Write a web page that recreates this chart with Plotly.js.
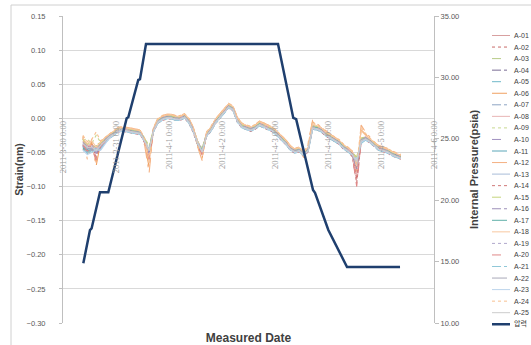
<!DOCTYPE html>
<html><head><meta charset="utf-8">
<script src="https://cdn.plot.ly/plotly-3.0.1.min.js"></script>
<style>html,body{margin:0;padding:0;background:#fff}#chart{width:531px;height:345px}</style>
</head><body><div id="chart"></div>
<script>
// ---------- DATA ----------
const times = [
'2011-03-30 09:00','2011-03-30 11:00','2011-03-30 13:00','2011-03-30 15:00','2011-03-30 17:00','2011-03-30 19:00','2011-03-30 21:00','2011-03-30 23:00',
'2011-03-31 01:00','2011-03-31 03:00','2011-03-31 05:00','2011-03-31 07:00','2011-03-31 09:00','2011-03-31 11:00','2011-03-31 13:00','2011-03-31 15:00','2011-03-31 17:00','2011-03-31 19:00','2011-03-31 21:00','2011-03-31 23:00',
'2011-04-01 01:00','2011-04-01 03:00','2011-04-01 05:00','2011-04-01 07:00','2011-04-01 09:00','2011-04-01 11:00','2011-04-01 13:00','2011-04-01 15:00','2011-04-01 17:00','2011-04-01 19:00','2011-04-01 21:00','2011-04-01 23:00',
'2011-04-02 01:00','2011-04-02 03:00','2011-04-02 05:00','2011-04-02 07:00','2011-04-02 09:00','2011-04-02 11:00','2011-04-02 13:00','2011-04-02 15:00','2011-04-02 17:00','2011-04-02 19:00','2011-04-02 21:00','2011-04-02 23:00',
'2011-04-03 01:00','2011-04-03 03:00','2011-04-03 05:00','2011-04-03 07:00','2011-04-03 09:00','2011-04-03 11:00','2011-04-03 13:00','2011-04-03 15:00','2011-04-03 17:00','2011-04-03 19:00','2011-04-03 21:00','2011-04-03 23:00',
'2011-04-04 01:00','2011-04-04 03:00','2011-04-04 05:00','2011-04-04 07:00','2011-04-04 09:00','2011-04-04 11:00','2011-04-04 13:00','2011-04-04 15:00','2011-04-04 17:00','2011-04-04 19:00','2011-04-04 21:00','2011-04-04 23:00',
'2011-04-05 01:00','2011-04-05 03:00','2011-04-05 05:00','2011-04-05 07:00','2011-04-05 09:00'];

const A01 = [-0.033,-0.040,-0.038,-0.044,-0.037,-0.030,-0.024,-0.020,-0.015,-0.014,-0.015,-0.017,-0.018,-0.019,-0.030,-0.050,-0.015,-0.002,0.002,0.004,0.004,0.002,0.002,0.005,-0.002,-0.015,-0.034,-0.046,-0.022,-0.014,-0.003,0.005,0.013,0.020,0.016,-0.001,-0.009,-0.012,-0.014,-0.011,-0.006,-0.009,-0.012,-0.015,-0.021,-0.027,-0.034,-0.042,-0.046,-0.044,-0.050,-0.044,-0.011,-0.012,-0.015,-0.021,-0.025,-0.030,-0.033,-0.040,-0.044,-0.050,-0.080,-0.030,-0.027,-0.031,-0.037,-0.042,-0.044,-0.046,-0.050,-0.053,-0.055];
const A02 = [-0.045,-0.050,-0.036,-0.058,-0.042,-0.035,-0.029,-0.025,-0.020,-0.019,-0.020,-0.022,-0.023,-0.024,-0.036,-0.058,-0.020,-0.007,-0.003,-0.001,-0.001,-0.003,-0.003,0.000,-0.007,-0.021,-0.040,-0.052,-0.027,-0.019,-0.008,0.000,0.008,0.016,0.011,-0.006,-0.014,-0.017,-0.019,-0.016,-0.011,-0.014,-0.017,-0.020,-0.026,-0.032,-0.039,-0.047,-0.051,-0.049,-0.056,-0.049,-0.016,-0.017,-0.020,-0.026,-0.030,-0.035,-0.038,-0.045,-0.049,-0.056,-0.095,-0.035,-0.032,-0.036,-0.042,-0.047,-0.049,-0.051,-0.055,-0.058,-0.060];
const A03 = [-0.030,-0.047,-0.043,-0.040,-0.041,-0.033,-0.027,-0.021,-0.018,-0.017,-0.016,-0.020,-0.019,-0.022,-0.031,-0.044,-0.018,-0.005,0.001,0.001,0.003,-0.001,0.001,0.002,-0.005,-0.016,-0.037,-0.047,-0.025,-0.015,-0.006,0.004,0.010,0.019,0.013,-0.004,-0.010,-0.015,-0.015,-0.014,-0.007,-0.012,-0.013,-0.018,-0.022,-0.030,-0.035,-0.045,-0.047,-0.047,-0.051,-0.047,-0.014,-0.013,-0.018,-0.022,-0.028,-0.031,-0.036,-0.041,-0.047,-0.051,-0.066,-0.033,-0.028,-0.034,-0.038,-0.045,-0.045,-0.049,-0.051,-0.056,-0.056];
const A04 = [-0.040,-0.044,-0.046,-0.050,-0.041,-0.034,-0.028,-0.024,-0.019,-0.018,-0.019,-0.021,-0.022,-0.023,-0.034,-0.052,-0.019,-0.006,-0.002,0.000,0.000,-0.002,-0.002,0.001,-0.006,-0.019,-0.038,-0.050,-0.026,-0.018,-0.007,0.001,0.009,0.016,0.012,-0.005,-0.013,-0.016,-0.018,-0.015,-0.010,-0.013,-0.016,-0.019,-0.025,-0.031,-0.038,-0.046,-0.050,-0.048,-0.054,-0.048,-0.015,-0.016,-0.019,-0.025,-0.029,-0.034,-0.037,-0.044,-0.048,-0.054,-0.072,-0.034,-0.031,-0.035,-0.041,-0.046,-0.048,-0.050,-0.054,-0.057,-0.059];
const A05 = [-0.042,-0.048,-0.052,-0.049,-0.044,-0.036,-0.027,-0.023,-0.018,-0.015,-0.018,-0.018,-0.021,-0.020,-0.033,-0.047,-0.016,-0.003,0.001,0.003,0.001,0.001,-0.001,0.004,-0.003,-0.018,-0.035,-0.049,-0.023,-0.017,-0.004,0.002,0.012,0.017,0.015,-0.002,-0.012,-0.013,-0.017,-0.012,-0.009,-0.010,-0.015,-0.016,-0.024,-0.028,-0.037,-0.043,-0.049,-0.045,-0.053,-0.045,-0.012,-0.015,-0.016,-0.024,-0.026,-0.033,-0.034,-0.043,-0.045,-0.053,-0.068,-0.031,-0.030,-0.032,-0.040,-0.043,-0.047,-0.047,-0.053,-0.054,-0.058];
const A06 = [-0.028,-0.055,-0.034,-0.070,-0.036,-0.030,-0.024,-0.019,-0.014,-0.013,-0.014,-0.016,-0.017,-0.018,-0.036,-0.072,-0.014,-0.001,0.003,0.005,0.005,0.003,0.003,0.006,-0.001,-0.014,-0.040,-0.058,-0.021,-0.013,-0.002,0.006,0.014,0.021,0.017,0.000,-0.008,-0.011,-0.013,-0.010,-0.005,-0.008,-0.011,-0.014,-0.020,-0.026,-0.033,-0.041,-0.045,-0.043,-0.055,-0.040,-0.005,-0.010,-0.014,-0.020,-0.024,-0.029,-0.032,-0.039,-0.043,-0.049,-0.078,-0.017,-0.024,-0.030,-0.036,-0.041,-0.043,-0.045,-0.049,-0.052,-0.054];
const A07 = [-0.038,-0.043,-0.044,-0.047,-0.040,-0.031,-0.025,-0.023,-0.016,-0.017,-0.016,-0.019,-0.021,-0.020,-0.033,-0.049,-0.017,-0.004,-0.001,0.002,0.001,0.000,-0.001,0.003,-0.004,-0.018,-0.037,-0.049,-0.024,-0.017,-0.005,0.002,0.010,0.017,0.014,-0.003,-0.011,-0.015,-0.016,-0.014,-0.008,-0.011,-0.015,-0.017,-0.024,-0.029,-0.037,-0.044,-0.049,-0.046,-0.052,-0.047,-0.014,-0.014,-0.018,-0.023,-0.028,-0.032,-0.036,-0.042,-0.046,-0.052,-0.064,-0.033,-0.029,-0.033,-0.040,-0.044,-0.047,-0.048,-0.052,-0.055,-0.058];
const A08 = [-0.034,-0.039,-0.040,-0.052,-0.038,-0.031,-0.025,-0.021,-0.016,-0.015,-0.016,-0.018,-0.019,-0.020,-0.031,-0.054,-0.016,-0.003,0.001,0.003,0.003,0.001,0.001,0.004,-0.003,-0.016,-0.035,-0.047,-0.023,-0.015,-0.004,0.004,0.012,0.019,0.015,-0.002,-0.010,-0.013,-0.015,-0.012,-0.007,-0.010,-0.013,-0.016,-0.022,-0.028,-0.035,-0.043,-0.047,-0.045,-0.051,-0.045,-0.010,-0.013,-0.016,-0.022,-0.026,-0.031,-0.034,-0.041,-0.045,-0.051,-0.085,-0.029,-0.028,-0.032,-0.038,-0.043,-0.045,-0.047,-0.051,-0.054,-0.056];
const A09 = [-0.032,-0.030,-0.037,-0.025,-0.035,-0.029,-0.023,-0.020,-0.015,-0.015,-0.015,-0.018,-0.018,-0.020,-0.029,-0.040,-0.016,-0.003,0.001,0.003,0.003,0.001,0.001,0.004,-0.003,-0.016,-0.034,-0.044,-0.022,-0.015,-0.004,0.004,0.012,0.019,0.015,-0.002,-0.010,-0.013,-0.015,-0.012,-0.007,-0.010,-0.013,-0.016,-0.022,-0.028,-0.035,-0.043,-0.047,-0.045,-0.050,-0.044,-0.012,-0.013,-0.016,-0.022,-0.026,-0.031,-0.034,-0.041,-0.045,-0.050,-0.058,-0.030,-0.028,-0.032,-0.038,-0.043,-0.045,-0.047,-0.051,-0.054,-0.056];
const A10 = [-0.039,-0.046,-0.049,-0.053,-0.043,-0.034,-0.028,-0.023,-0.019,-0.017,-0.018,-0.020,-0.021,-0.023,-0.033,-0.050,-0.019,-0.005,-0.001,0.001,0.001,-0.001,-0.001,0.002,-0.005,-0.018,-0.037,-0.050,-0.025,-0.017,-0.006,0.002,0.010,0.017,0.013,-0.004,-0.012,-0.015,-0.017,-0.014,-0.009,-0.012,-0.015,-0.018,-0.024,-0.030,-0.037,-0.045,-0.049,-0.047,-0.053,-0.047,-0.014,-0.015,-0.018,-0.024,-0.028,-0.033,-0.036,-0.043,-0.047,-0.053,-0.070,-0.033,-0.030,-0.034,-0.040,-0.045,-0.047,-0.049,-0.053,-0.056,-0.058];
const A11 = [-0.041,-0.051,-0.045,-0.048,-0.042,-0.033,-0.027,-0.022,-0.018,-0.016,-0.017,-0.019,-0.020,-0.021,-0.032,-0.048,-0.017,-0.004,0.000,0.002,0.002,0.000,0.000,0.003,-0.004,-0.017,-0.036,-0.048,-0.024,-0.016,-0.005,0.003,0.011,0.018,0.014,-0.003,-0.011,-0.014,-0.016,-0.013,-0.008,-0.011,-0.014,-0.017,-0.023,-0.029,-0.036,-0.044,-0.048,-0.046,-0.052,-0.046,-0.013,-0.014,-0.017,-0.023,-0.027,-0.032,-0.035,-0.042,-0.046,-0.052,-0.062,-0.032,-0.029,-0.033,-0.039,-0.044,-0.046,-0.048,-0.052,-0.055,-0.057];
const A12 = [-0.026,-0.060,-0.030,-0.065,-0.034,-0.029,-0.023,-0.018,-0.013,-0.012,-0.013,-0.015,-0.016,-0.017,-0.040,-0.080,-0.013,0.000,0.004,0.006,0.006,0.004,0.004,0.007,0.000,-0.013,-0.042,-0.062,-0.020,-0.012,-0.001,0.007,0.015,0.022,0.018,0.001,-0.007,-0.010,-0.012,-0.009,-0.004,-0.007,-0.010,-0.013,-0.019,-0.025,-0.032,-0.040,-0.044,-0.042,-0.058,-0.036,-0.003,-0.008,-0.013,-0.019,-0.023,-0.028,-0.031,-0.038,-0.042,-0.048,-0.075,-0.010,-0.020,-0.028,-0.035,-0.040,-0.042,-0.044,-0.048,-0.051,-0.053];
const A13 = [-0.043,-0.045,-0.047,-0.044,-0.045,-0.035,-0.029,-0.024,-0.019,-0.018,-0.019,-0.021,-0.022,-0.023,-0.033,-0.046,-0.019,-0.006,-0.002,0.000,0.000,-0.002,-0.002,0.001,-0.006,-0.019,-0.038,-0.050,-0.026,-0.018,-0.007,0.001,0.009,0.016,0.012,-0.005,-0.013,-0.016,-0.018,-0.015,-0.010,-0.013,-0.016,-0.019,-0.025,-0.031,-0.038,-0.046,-0.050,-0.048,-0.054,-0.048,-0.016,-0.016,-0.019,-0.025,-0.029,-0.034,-0.037,-0.044,-0.048,-0.054,-0.060,-0.036,-0.031,-0.035,-0.041,-0.046,-0.048,-0.050,-0.054,-0.057,-0.059];
const A14 = [-0.037,-0.041,-0.042,-0.056,-0.040,-0.033,-0.026,-0.022,-0.017,-0.017,-0.017,-0.019,-0.021,-0.021,-0.034,-0.056,-0.018,-0.004,0.000,0.002,0.002,0.000,0.000,0.003,-0.004,-0.017,-0.037,-0.052,-0.024,-0.016,-0.005,0.003,0.011,0.018,0.014,-0.003,-0.011,-0.014,-0.016,-0.013,-0.008,-0.011,-0.014,-0.017,-0.023,-0.029,-0.036,-0.044,-0.048,-0.046,-0.053,-0.047,-0.012,-0.014,-0.017,-0.023,-0.027,-0.032,-0.035,-0.042,-0.046,-0.052,-0.090,-0.031,-0.029,-0.033,-0.039,-0.044,-0.046,-0.048,-0.052,-0.055,-0.057];
const A15 = [-0.031,-0.038,-0.035,-0.038,-0.036,-0.030,-0.024,-0.020,-0.015,-0.014,-0.015,-0.017,-0.018,-0.019,-0.030,-0.043,-0.015,-0.002,0.002,0.004,0.004,0.002,0.002,0.005,-0.002,-0.015,-0.034,-0.045,-0.022,-0.014,-0.003,0.005,0.013,0.020,0.016,-0.001,-0.009,-0.012,-0.014,-0.011,-0.006,-0.009,-0.012,-0.015,-0.021,-0.027,-0.034,-0.042,-0.046,-0.044,-0.050,-0.044,-0.011,-0.012,-0.015,-0.021,-0.025,-0.030,-0.033,-0.040,-0.044,-0.050,-0.057,-0.029,-0.027,-0.031,-0.037,-0.042,-0.044,-0.046,-0.050,-0.053,-0.055];
const A16 = [-0.040,-0.049,-0.043,-0.051,-0.043,-0.034,-0.027,-0.024,-0.018,-0.018,-0.018,-0.020,-0.022,-0.022,-0.033,-0.051,-0.018,-0.005,-0.001,0.001,0.001,-0.001,-0.001,0.002,-0.005,-0.018,-0.038,-0.051,-0.025,-0.017,-0.006,0.002,0.010,0.017,0.013,-0.004,-0.012,-0.015,-0.017,-0.014,-0.009,-0.012,-0.015,-0.018,-0.024,-0.030,-0.037,-0.045,-0.049,-0.047,-0.053,-0.047,-0.014,-0.015,-0.018,-0.024,-0.028,-0.033,-0.036,-0.043,-0.047,-0.053,-0.074,-0.033,-0.030,-0.034,-0.040,-0.045,-0.047,-0.049,-0.053,-0.056,-0.058];
const A17 = [-0.044,-0.046,-0.050,-0.045,-0.041,-0.032,-0.026,-0.022,-0.017,-0.016,-0.017,-0.019,-0.020,-0.021,-0.032,-0.047,-0.017,-0.004,0.000,0.002,0.002,0.000,0.000,0.003,-0.004,-0.017,-0.036,-0.047,-0.024,-0.016,-0.005,0.003,0.011,0.018,0.014,-0.003,-0.011,-0.014,-0.016,-0.013,-0.008,-0.011,-0.014,-0.017,-0.023,-0.029,-0.036,-0.044,-0.048,-0.046,-0.052,-0.046,-0.013,-0.014,-0.017,-0.023,-0.027,-0.032,-0.035,-0.042,-0.046,-0.052,-0.066,-0.032,-0.029,-0.033,-0.039,-0.044,-0.046,-0.048,-0.052,-0.055,-0.057];
const A18 = [-0.029,-0.037,-0.033,-0.042,-0.035,-0.029,-0.023,-0.019,-0.014,-0.013,-0.014,-0.016,-0.017,-0.018,-0.033,-0.065,-0.014,-0.001,0.003,0.005,0.005,0.003,0.003,0.006,-0.001,-0.014,-0.034,-0.050,-0.021,-0.013,-0.002,0.006,0.014,0.021,0.017,0.000,-0.008,-0.011,-0.013,-0.010,-0.005,-0.008,-0.011,-0.014,-0.020,-0.026,-0.033,-0.041,-0.045,-0.043,-0.050,-0.042,-0.008,-0.011,-0.014,-0.020,-0.024,-0.029,-0.032,-0.039,-0.043,-0.049,-0.070,-0.018,-0.025,-0.030,-0.036,-0.041,-0.043,-0.045,-0.049,-0.052,-0.054];
const A19 = [-0.038,-0.044,-0.039,-0.049,-0.039,-0.032,-0.026,-0.022,-0.017,-0.016,-0.017,-0.019,-0.020,-0.021,-0.032,-0.049,-0.017,-0.004,0.000,0.002,0.002,0.000,0.000,0.003,-0.004,-0.017,-0.036,-0.049,-0.024,-0.016,-0.005,0.003,0.011,0.018,0.014,-0.003,-0.011,-0.014,-0.016,-0.013,-0.008,-0.011,-0.014,-0.017,-0.023,-0.029,-0.036,-0.044,-0.048,-0.046,-0.052,-0.046,-0.013,-0.014,-0.017,-0.023,-0.027,-0.032,-0.035,-0.042,-0.046,-0.052,-0.067,-0.032,-0.029,-0.033,-0.039,-0.044,-0.046,-0.048,-0.052,-0.055,-0.057];
const A20 = [-0.039,-0.048,-0.044,-0.061,-0.041,-0.034,-0.028,-0.023,-0.018,-0.017,-0.018,-0.020,-0.021,-0.022,-0.035,-0.060,-0.019,-0.005,-0.001,0.001,0.001,-0.001,-0.001,0.002,-0.005,-0.018,-0.039,-0.054,-0.025,-0.017,-0.006,0.002,0.010,0.017,0.013,-0.004,-0.012,-0.015,-0.017,-0.014,-0.009,-0.012,-0.015,-0.018,-0.024,-0.030,-0.037,-0.045,-0.049,-0.047,-0.054,-0.048,-0.014,-0.015,-0.018,-0.024,-0.028,-0.033,-0.036,-0.043,-0.047,-0.054,-0.100,-0.034,-0.030,-0.034,-0.040,-0.045,-0.047,-0.049,-0.053,-0.056,-0.058];
const A21 = [-0.046,-0.050,-0.048,-0.043,-0.046,-0.036,-0.030,-0.025,-0.020,-0.019,-0.020,-0.022,-0.023,-0.024,-0.034,-0.045,-0.020,-0.007,-0.003,-0.001,-0.001,-0.003,-0.003,0.000,-0.007,-0.020,-0.038,-0.048,-0.027,-0.019,-0.008,0.000,0.008,0.015,0.011,-0.006,-0.014,-0.017,-0.019,-0.016,-0.011,-0.014,-0.017,-0.020,-0.026,-0.032,-0.039,-0.047,-0.051,-0.049,-0.055,-0.049,-0.017,-0.017,-0.020,-0.026,-0.030,-0.035,-0.038,-0.045,-0.049,-0.055,-0.063,-0.037,-0.032,-0.036,-0.042,-0.047,-0.049,-0.051,-0.055,-0.058,-0.060];
const A22 = [-0.035,-0.042,-0.047,-0.047,-0.038,-0.031,-0.026,-0.021,-0.017,-0.015,-0.016,-0.019,-0.019,-0.021,-0.031,-0.048,-0.016,-0.004,0.001,0.002,0.003,0.000,0.001,0.003,-0.003,-0.016,-0.036,-0.048,-0.023,-0.016,-0.004,0.003,0.012,0.018,0.015,-0.003,-0.010,-0.014,-0.015,-0.013,-0.007,-0.011,-0.013,-0.017,-0.022,-0.029,-0.035,-0.044,-0.047,-0.046,-0.051,-0.046,-0.013,-0.013,-0.017,-0.022,-0.027,-0.031,-0.035,-0.041,-0.046,-0.051,-0.065,-0.032,-0.028,-0.033,-0.038,-0.044,-0.045,-0.048,-0.051,-0.055,-0.056];
const A23 = [-0.047,-0.053,-0.050,-0.046,-0.047,-0.037,-0.029,-0.024,-0.020,-0.018,-0.019,-0.021,-0.022,-0.023,-0.034,-0.047,-0.019,-0.006,-0.002,0.000,0.000,-0.002,-0.002,0.001,-0.006,-0.019,-0.037,-0.049,-0.026,-0.018,-0.007,0.001,0.009,0.016,0.012,-0.005,-0.013,-0.016,-0.018,-0.015,-0.010,-0.013,-0.016,-0.019,-0.025,-0.031,-0.038,-0.046,-0.050,-0.048,-0.054,-0.048,-0.015,-0.016,-0.019,-0.025,-0.029,-0.034,-0.037,-0.044,-0.048,-0.054,-0.061,-0.035,-0.031,-0.035,-0.041,-0.046,-0.048,-0.050,-0.054,-0.057,-0.059];
const A24 = [-0.025,-0.034,-0.031,-0.020,-0.033,-0.028,-0.022,-0.018,-0.013,-0.012,-0.013,-0.015,-0.016,-0.017,-0.030,-0.058,-0.013,0.000,0.004,0.006,0.006,0.004,0.004,0.007,0.000,-0.013,-0.040,-0.060,-0.020,-0.012,-0.001,0.007,0.015,0.022,0.018,0.001,-0.007,-0.010,-0.012,-0.009,-0.004,-0.007,-0.010,-0.013,-0.019,-0.025,-0.032,-0.040,-0.044,-0.042,-0.049,-0.038,-0.006,-0.009,-0.013,-0.019,-0.023,-0.028,-0.031,-0.038,-0.042,-0.048,-0.068,-0.013,-0.022,-0.029,-0.035,-0.040,-0.042,-0.044,-0.048,-0.051,-0.053];
const A25 = [-0.037,-0.043,-0.042,-0.047,-0.040,-0.033,-0.027,-0.023,-0.018,-0.017,-0.018,-0.020,-0.021,-0.022,-0.033,-0.047,-0.018,-0.005,-0.001,0.001,0.001,-0.001,-0.001,0.002,-0.005,-0.018,-0.037,-0.049,-0.025,-0.017,-0.006,0.002,0.010,0.017,0.013,-0.004,-0.012,-0.015,-0.017,-0.014,-0.009,-0.012,-0.015,-0.018,-0.024,-0.030,-0.037,-0.045,-0.049,-0.047,-0.053,-0.047,-0.014,-0.015,-0.018,-0.024,-0.028,-0.033,-0.036,-0.043,-0.047,-0.053,-0.064,-0.033,-0.030,-0.034,-0.040,-0.045,-0.047,-0.049,-0.053,-0.056,-0.058];

const strainSeries = [A01,A02,A03,A04,A05,A06,A07,A08,A09,A10,A11,A12,A13,A14,A15,A16,A17,A18,A19,A20,A21,A22,A23,A24,A25];
const seriesNames = ['A-01','A-02','A-03','A-04','A-05','A-06','A-07','A-08','A-09','A-10','A-11','A-12','A-13','A-14','A-15','A-16','A-17','A-18','A-19','A-20','A-21','A-22','A-23','A-24','A-25'];

const pressureName = '압력';
const pressureTimes = ['2011-03-30 09:12','2011-03-30 12:13','2011-03-30 12:57','2011-03-30 16:45','2011-03-30 20:31','2011-03-31 04:50','2011-03-31 05:34','2011-03-31 10:05','2011-03-31 10:52','2011-03-31 13:35','2011-04-03 01:22','2011-04-03 08:17','2011-04-03 09:35','2011-04-03 13:35','2011-04-03 17:13','2011-04-03 18:07','2011-04-03 23:33','2011-04-04 00:09','2011-04-04 08:37','2011-04-05 08:37'];
const pressureValues = [14.86,17.57,17.70,20.64,20.64,26.67,26.75,29.79,29.85,32.72,32.72,26.70,26.60,23.68,20.83,20.60,17.74,17.57,14.56,14.56];

const dateTickVals = ['2011-03-30','2011-03-31','2011-04-01','2011-04-02','2011-04-03','2011-04-04','2011-04-05','2011-04-06'];
const dateTickText = ['2011-3-30 0:00','2011-3-31 0:00','2011-4-1 0:00','2011-4-2 0:00','2011-4-3 0:00','2011-4-4 0:00','2011-4-5 0:00','2011-4-6 0:00'];

// ---------- STYLES ----------
const colors = ['#d8a0a0','#c86a68','#b8cc88','#7a6c94','#6fb8c9','#f0a060','#8da4c4','#e8b4b4','#c8d890','#a090c0','#5aa6b8','#f4b183','#a8bcd8','#d07878','#c4d47c','#9c8fb8','#60b0a8','#f8c8a0','#b0a8cc','#e08888','#90c8d8','#a8a8b8','#bcd4ec','#f8c090','#cccccc'];
const dashes = ['solid','dot','dash','dashdot','dash','longdashdot','dashdot','solid','dot','dash','longdashdot','longdashdot','solid','dot','dash','dashdot','longdash','solid','dot','dash','dashdot','longdashdot','solid','dot','solid'];
const pressureColor = '#1f3f6e';
const FONT = 'Liberation Sans, Noto Sans CJK KR, sans-serif';
const SERIF = 'Liberation Serif, DejaVu Serif, serif';

const traces = strainSeries.map((vals, i) => ({
  type: 'scatter', mode: 'lines', name: seriesNames[i],
  x: times, y: vals, yaxis: 'y',
  line: {color: colors[i], width: 1.1, dash: dashes[i]},
  showlegend: false
}));
traces.push({
  type: 'scatter', mode: 'lines', name: pressureName,
  x: pressureTimes, y: pressureValues, yaxis: 'y2',
  line: {color: pressureColor, width: 2.5},
  showlegend: false
});

// plot area in px: left 63, right 434, top 16, bottom 323
const PL = 63, PR = 434, PT = 16, PB = 323;
const px2x = p => (p - PL) / (PR - PL);
const px2y = p => (PB - p) / (PB - PT);

const shapes = [{
  type: 'rect', xref: 'paper', yref: 'paper', layer: 'below',
  x0: px2x(11), x1: px2x(545), y0: px2y(5), y1: px2y(360),
  line: {color: '#d0d0d0', width: 1}, fillcolor: 'rgba(0,0,0,0)'
}];
const annotations = [];
const legNames = seriesNames.concat([pressureName]);
legNames.forEach((nm, i) => {
  const yy = 35.5 + i * 11.55;
  const isP = i === 25;
  shapes.push({
    type: 'line', xref: 'paper', yref: 'paper',
    x0: px2x(492), x1: px2x(510), y0: px2y(yy), y1: px2y(yy),
    line: {color: isP ? pressureColor : colors[i], width: isP ? 2.5 : 1, dash: isP ? 'solid' : dashes[i]}
  });
  annotations.push({
    xref: 'paper', yref: 'paper', x: px2x(512), y: px2y(yy),
    xanchor: 'left', yanchor: 'middle', showarrow: false,
    text: nm, font: {family: FONT, size: 7, color: '#404040'}
  });
});

const layout = {
  width: 531, height: 345,
  margin: {l: PL, r: 531 - PR, t: PT, b: 345 - PB, autoexpand: false},
  paper_bgcolor: '#ffffff', plot_bgcolor: '#ffffff',
  font: {family: FONT, size: 7.5, color: '#595959'},
  showlegend: false,
  xaxis: {
    type: 'date', range: ['2011-03-30 00:00', '2011-04-06 00:00'],
    anchor: 'free', position: 0.3 / 0.45,
    tickmode: 'array', tickvals: dateTickVals, ticktext: dateTickText,
    tickangle: -90, tickfont: {family: SERIF, size: 8.5, color: '#9a9a9a'},
    showgrid: false, showline: false, zeroline: false, ticks: '',
    title: {text: 'Measured Date', font: {family: FONT, size: 12, color: '#404040', weight: 'bold'}, standoff: 161}
  },
  yaxis: {
    range: [-0.30, 0.15], dtick: 0.05, tick0: 0, tickformat: '.2f',
    showgrid: true, gridcolor: '#d9d9d9', gridwidth: 1, zeroline: false,
    showline: true, linecolor: '#bfbfbf', linewidth: 1,
    ticks: 'outside', ticklen: 3, tickcolor: '#bfbfbf', ticklabelstandoff: 12,
    tickfont: {family: FONT, size: 7.5, color: '#595959'},
    title: {text: 'Strain(nm)', font: {family: FONT, size: 10.5, color: '#404040', weight: 'bold'}, standoff: 0}
  },
  yaxis2: {
    overlaying: 'y', side: 'right', range: [10, 35], dtick: 5, tick0: 10, tickformat: '.2f',
    showgrid: false, zeroline: false,
    showline: true, linecolor: '#bfbfbf', linewidth: 1,
    ticks: 'outside', ticklen: 4, tickcolor: '#bfbfbf',
    tickfont: {family: FONT, size: 7.5, color: '#595959'},
    title: {text: 'Internal Pressure(psia)', font: {family: FONT, size: 11, color: '#404040', weight: 'bold'}, standoff: 12}
  },
  shapes: shapes,
  annotations: annotations
};

Plotly.newPlot('chart', traces, layout, {displayModeBar: false, staticPlot: true});
</script>
</body></html>
